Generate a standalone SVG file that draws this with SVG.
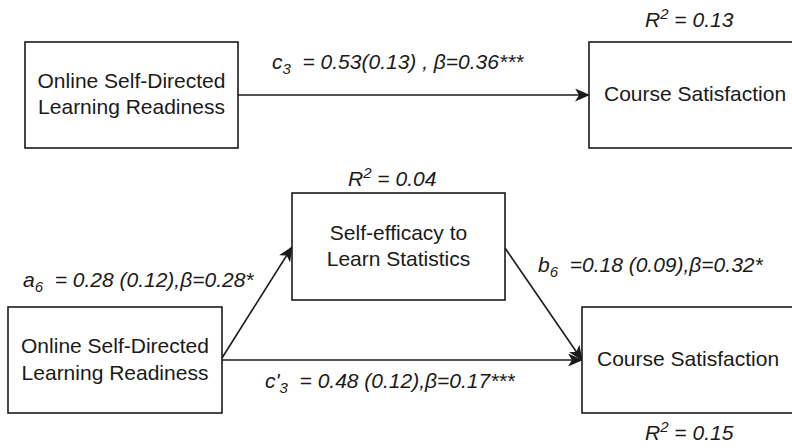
<svg xmlns="http://www.w3.org/2000/svg" width="792" height="448" viewBox="0 0 792 448">
  <defs>
    <marker id="arrow" viewBox="0 0 15 13" markerWidth="15" markerHeight="13" refX="14" refY="6.5" orient="auto" markerUnits="userSpaceOnUse">
      <path d="M0,0 L15,6.5 L0,13 L4,6.5 Z" fill="#1a1a1a"/>
    </marker>
  </defs>
  <style>
    .box { fill: #ffffff; stroke: #1a1a1a; stroke-width: 1.6; }
    .node-text { font-family: "Liberation Sans", Arial, sans-serif; font-size: 21px; fill: #1a1a1a; }
    .label { font-family: "Liberation Sans", Arial, sans-serif; font-size: 21px; font-style: italic; fill: #1a1a1a; }
    .sub { font-size: 15px; }
    .edge { fill: none; stroke: #1a1a1a; stroke-width: 1.6; marker-end: url(#arrow); }
  </style>
  <rect width="792" height="448" fill="#ffffff"/>

  <!-- connectors -->
  <g id="connectors">
    <line class="edge" x1="238" y1="95" x2="589" y2="95"/>
    <line class="edge" x1="222" y1="358" x2="292" y2="247"/>
    <line class="edge" x1="505" y1="248" x2="582" y2="360"/>
    <line class="edge" x1="222" y1="360" x2="582" y2="360"/>
  </g>

  <!-- total effect model -->
  <g id="osdlr-top">
    <rect class="box" x="25" y="42" width="213" height="106"/>
    <text class="node-text" x="131.5" y="88" text-anchor="middle">Online Self-Directed</text>
    <text class="node-text" x="131.5" y="114" text-anchor="middle">Learning Readiness</text>
  </g>
  <g id="satisfaction-top">
    <rect class="box" x="589" y="42" width="214" height="106"/>
    <text class="node-text" x="604" y="101">Course Satisfaction</text>
  </g>

  <!-- mediation model -->
  <g id="self-efficacy">
    <rect class="box" x="292" y="193" width="213" height="107"/>
    <text class="node-text" x="398.5" y="240" text-anchor="middle">Self-efficacy to</text>
    <text class="node-text" x="398.5" y="266" text-anchor="middle">Learn Statistics</text>
  </g>
  <g id="osdlr-bottom">
    <rect class="box" x="8" y="307" width="214" height="106"/>
    <text class="node-text" x="115" y="353" text-anchor="middle">Online Self-Directed</text>
    <text class="node-text" x="115" y="380" text-anchor="middle">Learning Readiness</text>
  </g>
  <g id="satisfaction-bottom">
    <rect class="box" x="582" y="307" width="214" height="106"/>
    <text class="node-text" x="597" y="366">Course Satisfaction</text>
  </g>

  <!-- path coefficients and R-squared values -->
  <g id="labels">
    <text class="label" x="272" y="69">c<tspan class="sub" dy="5">3</tspan><tspan dy="-5" xml:space="preserve">  = 0.53(0.13) , β=0.36***</tspan></text>
    <text class="label" x="645" y="27">R<tspan class="sub" dy="-8">2</tspan><tspan dy="8"> = 0.13</tspan></text>
    <text class="label" x="348" y="186">R<tspan class="sub" dy="-8">2</tspan><tspan dy="8"> = 0.04</tspan></text>
    <text class="label" x="23" y="287">a<tspan class="sub" dy="5">6</tspan><tspan dy="-5" xml:space="preserve">  = 0.28 (0.12),β=0.28*</tspan></text>
    <text class="label" x="538" y="272">b<tspan class="sub" dy="5">6</tspan><tspan dy="-5" xml:space="preserve">  =0.18 (0.09),β=0.32*</tspan></text>
    <text class="label" x="265" y="388">c'<tspan class="sub" dy="5">3</tspan><tspan dy="-5" xml:space="preserve">  = 0.48 (0.12),β=0.17***</tspan></text>
    <text class="label" x="645" y="440">R<tspan class="sub" dy="-8">2</tspan><tspan dy="8"> = 0.15</tspan></text>
  </g>
</svg>
